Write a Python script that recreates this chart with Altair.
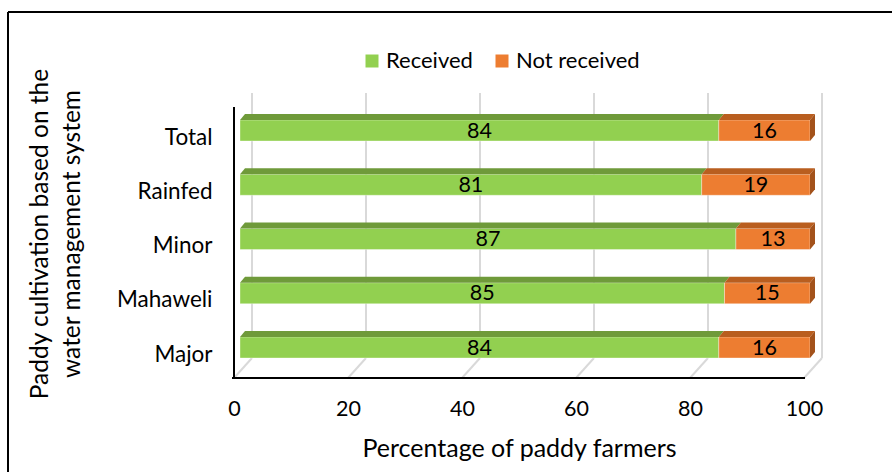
import json
import altair as alt
import pandas as pd

# ---- chart data -------------------------------------------------------
categories = ["Major", "Mahaweli", "Minor", "Rainfed", "Total"]
received = [84, 85, 87, 81, 84]
not_received = [16, 15, 13, 19, 16]
series = ["Received", "Not received"]
x_ticks = [0, 20, 40, 60, 80, 100]

# ---- styling ----------------------------------------------------------
FONT = "Lato"
FRONT = {"Received": "#92d050", "Not received": "#ed7d31"}
TOP = {"Received": "#6f9a3a", "Not received": "#b95e1f"}
SIDE = "#a3521b"
GRID = "#d9d9d9"

W, H = 570, 285            # plot area in px
PX_X = W / 100             # px per percent
ROW_PX = 54.25             # px between category rows
Y_MIN = -23.8 / ROW_PX     # floor sits a little below the first row
Y_MAX = Y_MIN + H / ROW_PX


def ux(px):
    return px / PX_X


def uy(px):
    return px / ROW_PX


# pseudo-3D depth offsets (px right, px up)
BAR_DX, BAR_DY = 6, 6.7
CAP_DX, CAP_DY = 5, 6
BACK_DX, BACK_DY = 18, 20
FACE_H = 21

# ---- build geometry from the values ------------------------------------
fronts, tops, sides = [], [], []
for i, cat in enumerate(categories):
    start = 0
    yc = i + uy(BAR_DY)
    yb, yt = yc - uy(FACE_H / 2), yc + uy(FACE_H / 2)
    for s, v in zip(series, (received[i], not_received[i])):
        x0 = start + ux(BAR_DX)
        x1 = start + v + ux(BAR_DX)
        fronts.append(dict(cat=cat, series=s, value=v, x0=x0, x1=x1,
                           xm=(x0 + x1) / 2, yb=yb, yt=yt, yc=yc))
        fid = f"{cat}-{s}"
        tops.append(dict(face=fid, fill=TOP[s], y=yt, xa=x0, xb=x1))
        tops.append(dict(face=fid, fill=TOP[s], y=yt + uy(CAP_DY),
                         xa=x0 + ux(CAP_DX), xb=x1 + ux(CAP_DX)))
        start += v
    # right-hand end face of the stacked bar
    xe = start + ux(BAR_DX)
    sides.append(dict(face=cat, fill=SIDE, x=xe, ya=yb, yb2=yt))
    sides.append(dict(face=cat, fill=SIDE, x=xe + ux(CAP_DX),
                      ya=yb + uy(CAP_DY), yb2=yt + uy(CAP_DY)))

walls = pd.DataFrame(dict(
    v=x_ticks,
    xb=[t + ux(BACK_DX) for t in x_ticks],
    yf=[Y_MIN] * len(x_ticks),
    yfb=[Y_MIN + uy(BACK_DY)] * len(x_ticks),
    ytop=[Y_MAX] * len(x_ticks),
))

xs = alt.Scale(domain=[0, 100], nice=False, zero=False)
ys = alt.Scale(domain=[Y_MIN, Y_MAX], nice=False, zero=False)

# one shared axis definition per channel, used by every layer
X_AXIS = alt.Axis(
    values=x_ticks, title="Percentage of paddy farmers",
    domain=False, ticks=False, grid=False, labelFlush=False,
    labelPadding=20, labelFontSize=21.5, labelColor="#000000",
    titleFontSize=25, titleColor="#000000", titleFontWeight="normal",
    titleBaseline="middle", titleY=70)
Y_AXIS = alt.Axis(
    values=list(range(len(categories))),
    labelExpr=f"{json.dumps(categories)}[datum.value]",
    domain=False, ticks=False, grid=False,
    labelPadding=22, labelFontSize=22.5, labelColor="#000000",
    labelBaseline="middle",
    title=["Paddy cultivation based on the", "water management system"],
    titleFontSize=24.5, titleColor="#000000", titleFontWeight="normal",
    titleAngle=270, titleX=-194, titleY=140.5, titleBaseline="middle",
    titleAlign="center", titleLineHeight=32)

# back-wall gridlines and floor diagonals
grid = alt.Chart(walls).mark_rule(color=GRID, strokeWidth=2).encode(
    x=alt.X("xb:Q", scale=xs, axis=X_AXIS),
    y=alt.Y("yfb:Q", scale=ys, axis=Y_AXIS),
    y2="ytop:Q",
)
floor = alt.Chart(walls).mark_rule(color=GRID, strokeWidth=2).encode(
    x=alt.X("v:Q", scale=xs, axis=X_AXIS), x2="xb:Q",
    y=alt.Y("yf:Q", scale=ys, axis=Y_AXIS), y2="yfb:Q",
)

# front axis frame
frame_df = pd.DataFrame(dict(
    xa=[0, ux(-2)], xb=[0, 100 + ux(1)],
    ya=[Y_MIN, Y_MIN], yb=[Y_MIN + uy(378 - 107), Y_MIN],
))
frame = alt.Chart(frame_df).mark_rule(color="#000000", strokeWidth=2).encode(
    x=alt.X("xa:Q", scale=xs, axis=X_AXIS), x2="xb:Q",
    y=alt.Y("ya:Q", scale=ys, axis=Y_AXIS), y2="yb:Q",
)

front = alt.Chart(pd.DataFrame(fronts)).mark_rect(
    stroke="#ffffff", strokeWidth=0.6, strokeOpacity=0.6
).encode(
    x=alt.X("x0:Q", scale=xs, axis=X_AXIS),
    x2="x1:Q",
    y=alt.Y("yb:Q", scale=ys, axis=Y_AXIS),
    y2="yt:Q",
    color=alt.Color("series:N", scale=alt.Scale(
        domain=series, range=[FRONT[s] for s in series]),
        legend=alt.Legend(
            title=None, orient="none", legendX=127, legendY=-43,
            direction="horizontal", symbolType="square", symbolSize=169,
            symbolStrokeWidth=0, labelFontSize=22, labelColor="#000000",
            labelOffset=3, columnPadding=18, padding=0)),
)

top_faces = alt.Chart(pd.DataFrame(tops)).mark_area(orient="horizontal").encode(
    y=alt.Y("y:Q", scale=ys, axis=Y_AXIS),
    x=alt.X("xa:Q", scale=xs, axis=X_AXIS), x2="xb:Q",
    detail="face:N",
    fill=alt.Fill("fill:N", scale=None),
)

side_faces = alt.Chart(pd.DataFrame(sides)).mark_area(orient="vertical").encode(
    x=alt.X("x:Q", scale=xs, axis=X_AXIS),
    y=alt.Y("ya:Q", scale=ys, axis=Y_AXIS), y2="yb2:Q",
    detail="face:N",
    fill=alt.Fill("fill:N", scale=None),
)

labels = alt.Chart(pd.DataFrame(fronts)).mark_text(
    font=FONT, fontSize=21.5, color="#000000", baseline="middle", dy=1
).encode(
    x=alt.X("xm:Q", scale=xs, axis=X_AXIS),
    y=alt.Y("yc:Q", scale=ys, axis=Y_AXIS),
    text="value:Q",
)

# outer border of the figure (top and left edges)
border_df = pd.DataFrame(dict(k=[0]))
border_top = alt.Chart(border_df).mark_rule(color="#000000", strokeWidth=2).encode(
    x=alt.value(-226), x2=alt.value(700), y=alt.value(-81))
border_left = alt.Chart(border_df).mark_rule(color="#000000", strokeWidth=2).encode(
    x=alt.value(-226), y=alt.value(-81), y2=alt.value(420))

chart = alt.layer(
    grid, floor, front, top_faces, side_faces, frame, labels,
    border_top, border_left,
).properties(
    width=W, height=H, autosize="none",
    padding={"left": 234, "top": 93, "right": 892 - 234 - W, "bottom": 472 - 93 - H},
).configure(
    font=FONT, background="#ffffff",
).configure_view(stroke=None)

chart.save("out.html", embed_options={"renderer": "svg", "actions": False})
